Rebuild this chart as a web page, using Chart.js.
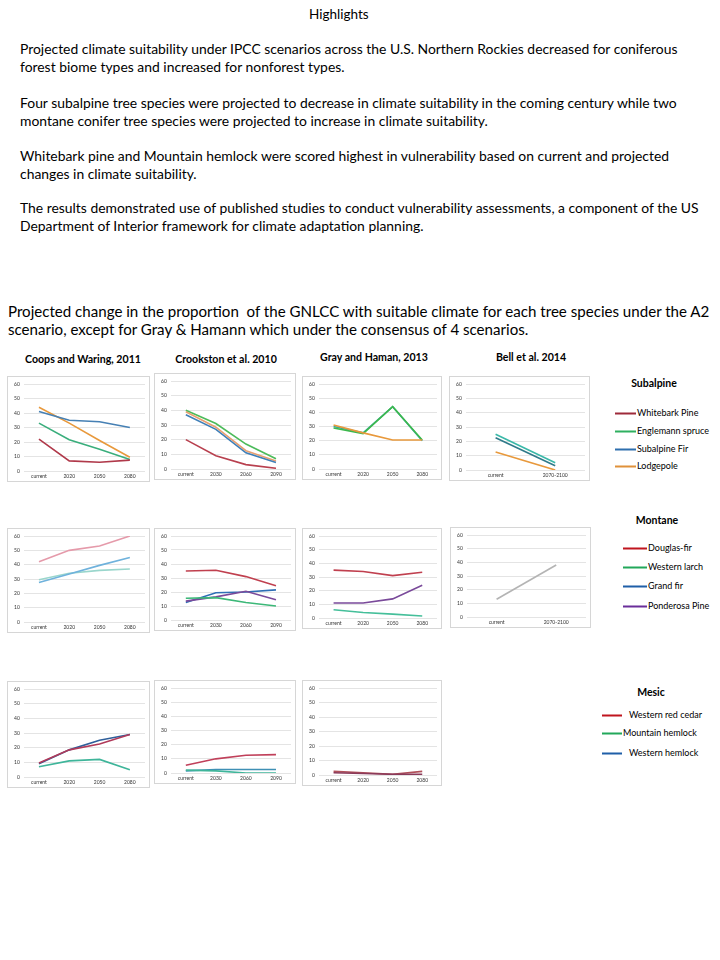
<!DOCTYPE html>
<html lang="en">
<head>
<meta charset="UTF-8">
<title>Highlights</title>
<script src="https://cdn.jsdelivr.net/npm/chart.js@4.4.0/dist/chart.umd.min.js"></script>
<style>
body{margin:0;width:720px;height:960px;background:#fff;font-family:Lato,"Open Sans",sans-serif;color:#000;position:relative;overflow:hidden}
.t{position:absolute;white-space:nowrap}
.p{position:absolute;left:20px;font-size:13.9px;line-height:18px;white-space:nowrap}
.cap{position:absolute;left:8px;top:302px;font-size:15.1px;line-height:18px;white-space:nowrap}
.ttl{position:absolute;font-weight:bold;font-size:10.6px;white-space:nowrap;transform:translate(-50%,-50%)}
.box{position:absolute;border:1px solid #d6d6d6;box-sizing:border-box;background:#fff}
.lg{position:absolute;font-size:9px;white-space:nowrap;transform:translateY(-50%)}
.lg i{display:inline-block;height:2px;vertical-align:middle;margin-right:1px}
.lgt{position:absolute;font-weight:bold;font-size:10.5px;white-space:nowrap;transform:translate(-50%,-50%)}
</style>
</head>
<body>
<div class="t" style="left:309px;top:6px;font-size:13.5px">Highlights</div>
<div class="p" style="top:40px">Projected climate suitability under IPCC scenarios across the U.S. Northern Rockies decreased for coniferous<br>forest biome types and increased for nonforest types.</div>
<div class="p" style="top:94px">Four subalpine tree species were projected to decrease in climate suitability in the coming century while two<br>montane conifer tree species were projected to increase in climate suitability.</div>
<div class="p" style="top:147px">Whitebark pine and Mountain hemlock were scored highest in vulnerability based on current and projected<br>changes in climate suitability.</div>
<div class="p" style="top:199px">The results demonstrated use of published studies to conduct vulnerability assessments, a component of the US<br>Department of Interior framework for climate adaptation planning.</div>
<div class="cap">Projected change in the proportion&nbsp; of the GNLCC with suitable climate for each tree species under the A2<br>scenario, except for Gray &amp; Hamann which under the consensus of 4 scenarios.</div>

<div class="ttl" style="left:83px;top:359px">Coops and Waring, 2011</div>
<div class="ttl" style="left:226px;top:359px">Crookston et al. 2010</div>
<div class="ttl" style="left:374px;top:357px">Gray and Haman, 2013</div>
<div class="ttl" style="left:531px;top:357px">Bell et al. 2014</div>

<div class="lgt" style="left:654px;top:383px">Subalpine</div>
<div class="lg" style="left:615px;top:412px"><i style="width:21px;background:#9e2a3a"></i>Whitebark Pine</div>
<div class="lg" style="left:615px;top:430px"><i style="width:21px;background:#2fb060"></i>Englemann spruce</div>
<div class="lg" style="left:615px;top:448px"><i style="width:21px;background:#2e6fae"></i>Subalpine Fir</div>
<div class="lg" style="left:615px;top:465px"><i style="width:21px;background:#e0913a"></i>Lodgepole</div>

<div class="lgt" style="left:657px;top:520px">Montane</div>
<div class="lg" style="left:623px;top:547px"><i style="width:24px;background:#c0151e"></i>Douglas-fir</div>
<div class="lg" style="left:623px;top:566px"><i style="width:24px;background:#22a85a"></i>Western larch</div>
<div class="lg" style="left:623px;top:585px"><i style="width:24px;background:#1f5fa8"></i>Grand fir</div>
<div class="lg" style="left:623px;top:605px"><i style="width:24px;background:#6a2e9a"></i>Ponderosa Pine</div>

<div class="lgt" style="left:651px;top:692px">Mesic</div>
<div class="lg" style="left:602px;top:714px"><i style="width:20px;background:#c0151e;margin-right:7px"></i>Western red cedar</div>
<div class="lg" style="left:602px;top:732px"><i style="width:20px;background:#22a85a"></i>Mountain hemlock</div>
<div class="lg" style="left:602px;top:752px"><i style="width:20px;background:#1f5fa8;margin-right:7px"></i>Western hemlock</div>

<script>
// category labels
const yrsCoops = ['current', '2020', '2050', '2080'];
const yrsCrook = ['current', '2030', '2060', '2090'];
const yrsGray = ['current', '2020', '2050', '2080'];
const yrsBell = ['current', '2070-2100'];

// subalpine
const coopsWhitebark = [22, 7, 6, 7.5];
const coopsEngelmann = [33, 21.5, 15, 8];
const coopsSubFir = [41, 35, 34, 30];
const coopsLodgepole = [44, 33, 21, 9.5];
const crookWhitebark = [20, 9, 3, 0.5];
const crookEngelmann = [40, 31, 17, 7];
const crookSubFir = [37, 27, 11, 4.5];
const crookLodgepole = [39, 28.5, 12.5, 5.5];
const grayEngelmann = [29, 25, 44, 20.5];
const graySubFir = [30, 25.5, 44, 20];
const grayLodgepole = [31, 25.5, 20.5, 20.5];
const bellEngelmann = [25, 5];
const bellSubFir = [22.5, 3];
const bellLodgepole = [12.5, 0];

// montane
const coopsDouglas = [42, 50, 53, 60];
const coopsLarch = [29.5, 34, 36, 37];
const coopsGrand = [27.5, 33.5, 39.5, 45];
const crookDouglas = [35, 35.5, 31, 24.5];
const crookLarch = [15.5, 16, 12.5, 10];
const crookGrand = [12.5, 19.5, 20, 21.5];
const crookPonderosa = [13.5, 16.5, 20.5, 14.5];
const grayDouglas = [35, 34, 31, 33.5];
const grayLarch = [6, 4, 2.8, 1.5];
const grayPonderosa = [11, 11, 14, 24];
const bellMontane = [13, 38];

// mesic
const coopsCedar = [9.5, 18.5, 22.5, 29];
const coopsMtnHemlock = [7, 11, 12, 5];
const coopsWHemlock = [9, 18.5, 25, 29];
const crookCedar = [5.5, 10, 12.5, 13];
const crookMtnHemlock = [2, 1.5, 0, 0];
const crookWHemlock = [1.5, 2.5, 2.5, 2.5];
const grayCedar = [2.5, 1.5, 0.5, 2.5];
const grayWHemlock = [1.5, 1, 0.5, 0.5];

function lineChart(x, y, w, h, labels, series) {
  var box = document.createElement('div');
  box.className = 'box';
  box.style.left = x + 'px'; box.style.top = y + 'px';
  box.style.width = w + 'px'; box.style.height = h + 'px';
  var c = document.createElement('canvas');
  c.width = w - 2; c.height = h - 2;
  c.style.width = (w - 2) + 'px'; c.style.height = (h - 2) + 'px';
  box.appendChild(c);
  document.body.appendChild(box);
  new Chart(c, {
    type: 'line',
    data: {
      labels: labels,
      datasets: series.map(function(s) {
        return { data: s[0], borderColor: s[1], borderWidth: 1.6, pointRadius: 0, tension: 0, fill: false };
      })
    },
    options: {
      responsive: false,
      animation: false,
      plugins: { legend: { display: false }, tooltip: { enabled: false } },
      layout: { padding: { top: 2, right: 4, left: 2, bottom: 0 } },
      scales: {
        x: {
          offset: true,
          grid: { display: false, drawTicks: false, tickLength: 0 },
          border: { display: false },
          ticks: { font: { size: 5, family: 'Lato' }, color: '#333', padding: 2, maxRotation: 0 }
        },
        y: {
          min: 0, max: 60,
          ticks: { stepSize: 10, font: { size: 5, family: 'Lato' }, color: '#333', padding: 4 },
          grid: { color: '#e4e4e4', drawTicks: false },
          border: { display: false }
        }
      }
    }
  });
}

// row 1 - subalpine
lineChart(7, 376, 143, 106, yrsCoops, [[coopsWhitebark, '#b0394a'], [coopsEngelmann, '#3aae7c'], [coopsSubFir, '#4680b4'], [coopsLodgepole, '#e8993c']]);
lineChart(154, 373, 142, 107, yrsCrook, [[crookWhitebark, '#b8404f'], [crookSubFir, '#3f7fb8'], [crookLodgepole, '#e8a070'], [crookEngelmann, '#4cbb5a']]);
lineChart(302, 376, 140, 104, yrsGray, [[grayLodgepole, '#e8993c'], [grayEngelmann, '#3cb84c'], [graySubFir, '#3aa8a0']]);
lineChart(449, 376, 141, 105, yrsBell, [[bellLodgepole, '#e8993c'], [bellEngelmann, '#3ab8a8'], [bellSubFir, '#2f7a8a']]);

// row 2 - montane
lineChart(7, 528, 143, 105, yrsCoops, [[coopsDouglas, '#e59aaa'], [coopsGrand, '#6fb2dc'], [coopsLarch, '#9ad6cc']]);
lineChart(154, 528, 142, 103, yrsCrook, [[crookDouglas, '#c0404f'], [crookLarch, '#3cb878'], [crookPonderosa, '#7a4a9a'], [crookGrand, '#2f6fb5']]);
lineChart(302, 528, 140, 101, yrsGray, [[grayDouglas, '#c0404f'], [grayPonderosa, '#7a4a9a'], [grayLarch, '#45bf9a']]);
lineChart(450, 527, 141, 101, yrsBell, [[bellMontane, '#b4b4b4']]);

// row 3 - mesic
lineChart(7, 681, 143, 107, yrsCoops, [[coopsMtnHemlock, '#3fb59a'], [coopsCedar, '#b03a5a'], [coopsWHemlock, '#2f5f9a']]);
lineChart(154, 680, 142, 104, yrsCrook, [[crookMtnHemlock, '#3fb59a'], [crookWHemlock, '#3f90b5'], [crookCedar, '#c0405a']]);
lineChart(302, 680, 140, 106, yrsGray, [[grayWHemlock, '#8a3a5a'], [grayCedar, '#b0505a']]);
</script>
</body>
</html>
